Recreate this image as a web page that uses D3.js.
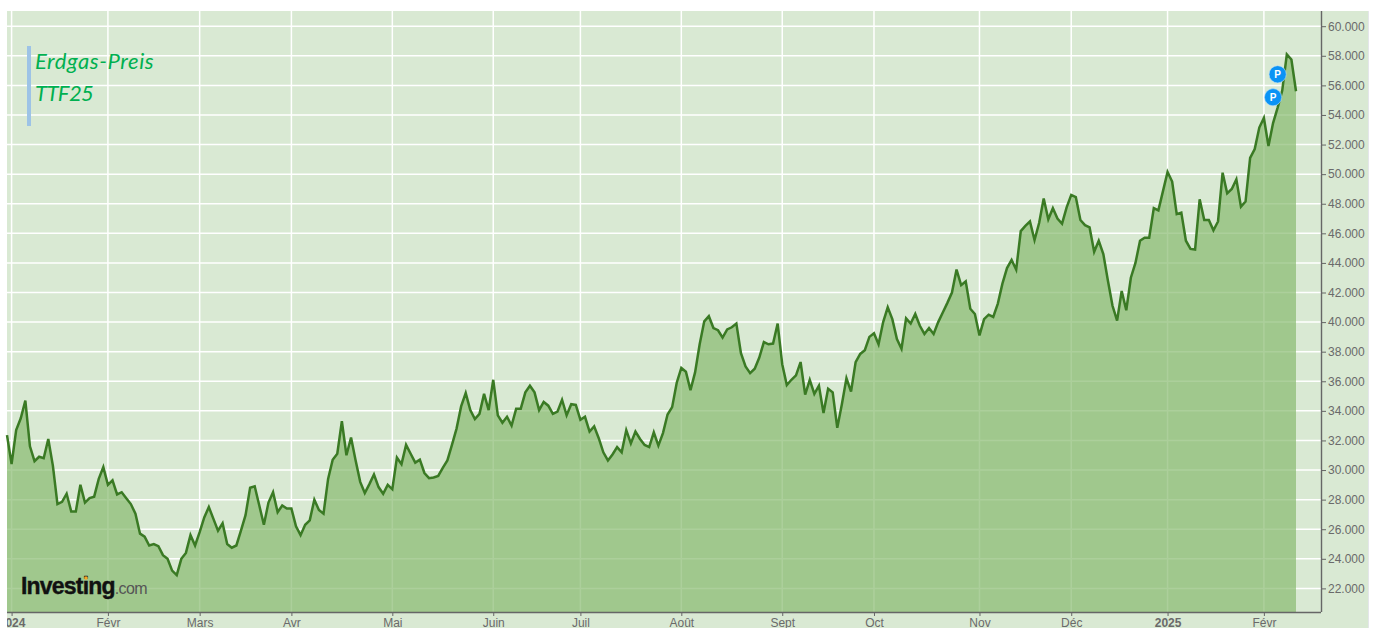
<!DOCTYPE html>
<html>
<head>
<meta charset="utf-8">
<script src="https://cdn.jsdelivr.net/npm/d3@7"></script>
<style>
  html, body { margin: 0; padding: 0; background: #fff; overflow: hidden; }
  svg { display: block; }
  .axis text { font-family: "Liberation Sans", Arial, sans-serif; font-size: 12px; fill: #6a6a6a; }
  .axis path, .axis line { stroke: #666; }
</style>
</head>
<body>
<div id="chart"></div>
<script>
// TTF front contract, one value per trading session
const closes = [
  // Jan 2024
  32.36, 30.4, 32.7, 33.5, 34.7, 31.6, 30.6, 30.9, 30.8, 32.1, 30.3, 27.7, 27.85, 28.4, 27.2, 27.2, 29.0, 27.8, 28.1, 28.2, 29.4, 30.2,
  // Feb
  29.0, 29.3, 28.35, 28.5, 28.1, 27.7, 27.05, 25.7, 25.5, 24.9, 25.0, 24.85, 24.25, 24.0, 23.2, 22.9, 24.0, 24.4, 25.6, 24.9,
  // Mar
  25.8, 26.8, 27.5, 26.7, 25.9, 26.4, 25.0, 24.75, 24.9, 25.9, 26.95, 28.8, 28.9, 27.6, 26.3, 27.8, 28.5, 27.15, 27.6, 27.4,
  // Apr
  27.4, 26.2, 25.6, 26.3, 26.6, 28.0, 27.3, 27.05, 29.4, 30.7, 31.1, 33.3, 31.0, 32.2, 30.65, 29.2, 28.45, 29.05, 29.7, 28.85, 28.4, 29.0,
  // May
  28.7, 30.85, 30.4, 31.7, 31.1, 30.5, 30.7, 29.8, 29.45, 29.5, 29.6, 30.15, 30.65, 31.7, 32.8, 34.3, 35.2, 34.05, 33.45, 33.8, 35.15, 34.05,
  // Jun
  36.1, 33.7, 33.2, 33.6, 33.0, 34.15, 34.15, 35.25, 35.7, 35.25, 34.05, 34.6, 34.35, 33.8, 33.95, 34.75, 33.7, 34.45, 34.4,
  // Jul
  33.4, 33.6, 32.6, 32.95, 32.15, 31.2, 30.65, 31.05, 31.55, 31.2, 32.7, 31.8, 32.6, 32.1, 31.7, 31.55, 32.55, 31.65, 32.5, 33.75, 34.25, 35.9,
  // Aug
  36.9, 36.65, 35.4, 36.6, 38.5, 40.05, 40.4, 39.6, 39.45, 38.95, 39.5, 39.65, 39.9, 37.9, 37.0, 36.55, 36.85, 37.6, 38.65, 38.5, 38.55, 39.9,
  // Sep
  37.15, 35.75, 36.1, 36.4, 37.3, 35.1, 36.1, 35.15, 35.7, 33.85, 35.5, 35.25, 32.85, 34.45, 36.2, 35.3, 37.3, 37.85, 38.1, 39.0,
  // Oct
  39.25, 38.5, 40.0, 41.0, 40.2, 38.85, 38.2, 40.25, 39.9, 40.55, 39.75, 39.2, 39.6, 39.2, 40.0, 40.65, 41.3, 42.0, 43.55, 42.5, 42.75, 40.9, 40.55,
  // Nov
  39.1, 40.2, 40.5, 40.35, 41.25, 42.6, 43.65, 44.2, 43.55, 46.15, 46.5, 46.8, 45.55, 46.7, 48.35, 46.95, 47.7, 47.0, 46.65, 47.75,
  // Dec
  48.6, 48.45, 46.9, 46.55, 46.4, 44.75, 45.5, 44.6, 42.8, 41.1, 40.1, 42.1, 40.8, 43.0, 44.0, 45.5, 45.7, 45.7, 47.7, 47.55, 48.85,
  // Jan 2025
  50.15, 49.5, 47.3, 47.4, 45.5, 44.95, 44.9, 48.3, 46.9, 46.9, 46.2, 46.8, 50.1, 48.7, 49.0, 49.65, 47.8, 48.15, 51.1, 51.7, 53.15,
  // Feb
  53.8, 51.9, 53.45, 54.5, 55.65, 58.1, 57.75, 55.6
];

const monthSessions = [1, 22, 42, 62, 84, 106, 125, 147, 169, 189, 212, 232, 253, 274];
const monthLabels = ['2024', 'Févr', 'Mars', 'Avr', 'Mai', 'Juin', 'Juil', 'Août', 'Sept', 'Oct', 'Nov', 'Déc', '2025', 'Févr'];
const yearLabels = ['2024', '2025'];
const priceTicks = [22, 24, 26, 28, 30, 32, 34, 36, 38, 40, 42, 44, 46, 48, 50, 52, 54, 56, 58, 60];
const pinSessions = [277, 276];
const pinValues = [56.75, 55.2];
const titleLines = ['Erdgas-Preis', 'TTF25'];

const width = 1376;
const height = 628;
const plot = { left: 7, right: 1321, top: 11, bottom: 612, outer: 1368 };

const svg = d3.select('#chart').append('svg').attr('width', width).attr('height', height);

const x = d3.scaleLinear().domain([0, closes.length - 1]).range([7, 1296]);
const y = d3.scaleLinear().domain([22, 60]).range([588.4, 26.2]);

svg.append('rect')
  .attr('x', plot.left).attr('y', plot.top)
  .attr('width', plot.outer - plot.left).attr('height', height - plot.top)
  .attr('fill', '#d9e9d3');
svg.append('line')
  .attr('x1', plot.outer + 0.5).attr('x2', plot.outer + 0.5)
  .attr('y1', plot.top).attr('y2', height)
  .attr('stroke', '#e4e6ea');

svg.append('clipPath').attr('id', 'page-clip').append('rect')
  .attr('x', plot.left).attr('y', plot.top)
  .attr('width', plot.outer - plot.left).attr('height', height - plot.top);

// white grid first, the translucent area lets it show through
const grid = svg.append('g').attr('stroke', '#fff').attr('stroke-width', 1.5);
grid.selectAll('line.h').data(priceTicks).join('line')
  .attr('class', 'h')
  .attr('x1', plot.left).attr('x2', plot.right)
  .attr('y1', (d) => y(d)).attr('y2', (d) => y(d));
grid.selectAll('line.v').data(monthSessions).join('line')
  .attr('class', 'v')
  .attr('x1', (d) => x(d)).attr('x2', (d) => x(d))
  .attr('y1', plot.top).attr('y2', plot.bottom);

const area = d3.area()
  .x((d, i) => x(i))
  .y0(plot.bottom)
  .y1((d) => y(d));
const line = d3.line()
  .x((d, i) => x(i))
  .y((d) => y(d));

svg.append('path').attr('d', area(closes)).attr('fill', '#85b86c').attr('fill-opacity', 0.68);
svg.append('path').attr('d', line(closes))
  .attr('fill', 'none')
  .attr('stroke', '#3a7a24')
  .attr('stroke-width', 2.5)
  .attr('stroke-linejoin', 'miter');

const yAxis = svg.append('g')
  .attr('class', 'axis')
  .attr('transform', `translate(${plot.right},0)`)
  .call(d3.axisRight(y).tickValues(priceTicks).tickFormat(d3.format('.3f')).tickSize(5).tickPadding(2));
yAxis.select('.domain').attr('d', `M0.5,${plot.top}V${plot.bottom}`).attr('stroke-width', 1.4);

const xAxis = svg.append('g')
  .attr('class', 'axis')
  .attr('clip-path', 'url(#page-clip)');
const xAxisInner = xAxis.append('g')
  .attr('transform', `translate(0,${plot.bottom})`)
  .call(d3.axisBottom(x).tickValues(monthSessions).tickFormat((d, i) => monthLabels[i]).tickSize(4).tickPadding(2));
xAxisInner.select('.domain').attr('d', `M${plot.left},0.5H${plot.right}`).attr('stroke-width', 1.4);
xAxisInner.selectAll('.tick text')
  .attr('font-weight', (d, i) => (yearLabels.includes(monthLabels[i]) ? 700 : 400));

// chart title, pasted over the screenshot in the original
svg.append('rect')
  .attr('x', 27).attr('y', 46)
  .attr('width', 4).attr('height', 80)
  .attr('fill', '#9dc3e6');
svg.selectAll('text.chart-title').data(titleLines).join('text')
  .attr('class', 'chart-title')
  .attr('x', 35)
  .attr('y', (d, i) => 69 + i * 32)
  .attr('font-family', 'Lato, "Open Sans", sans-serif')
  .attr('font-style', 'italic')
  .attr('font-size', 22)
  .attr('letter-spacing', (d, i) => (i === 0 ? 0.6 : -0.6))
  .attr('fill', '#00b050')
  .text((d) => d);

// blue "P" pins
const pins = svg.selectAll('g.pin').data(pinSessions).join('g')
  .attr('class', 'pin')
  .attr('transform', (d, i) => `translate(${x(d)},${y(pinValues[i])})`);
pins.append('circle').attr('r', 8.6).attr('fill', '#0a93f5').attr('stroke', '#bfe0f7').attr('stroke-width', 0.6);
pins.append('text')
  .attr('text-anchor', 'middle')
  .attr('y', 3.6)
  .attr('font-family', '"Liberation Sans", Arial, sans-serif')
  .attr('font-weight', 700)
  .attr('font-size', 10)
  .attr('fill', '#fff')
  .text('P');

// watermark
const logo = svg.append('text')
  .attr('x', 21).attr('y', 594)
  .attr('font-family', '"Liberation Sans", Arial, sans-serif');
logo.append('tspan')
  .attr('font-size', 23).attr('font-weight', 700).attr('letter-spacing', -0.8).attr('fill', '#111')
  .attr('stroke', '#111').attr('stroke-width', 0.4)
  .text('Investing');
logo.append('tspan')
  .attr('font-size', 16).attr('letter-spacing', -0.6).attr('fill', '#555')
  .text('.com');
svg.append('circle').attr('cx', 86).attr('cy', 578).attr('r', 1.8).attr('fill', '#f5a623');
</script>
</body>
</html>
